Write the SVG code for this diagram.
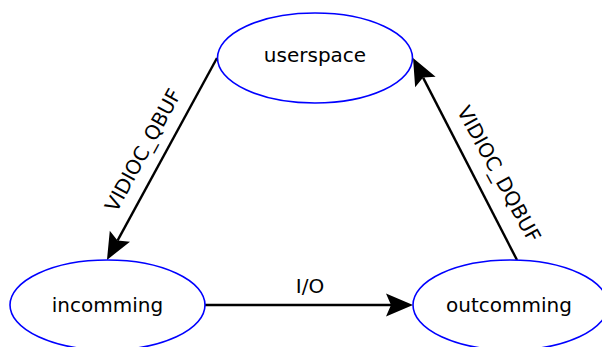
<svg xmlns="http://www.w3.org/2000/svg" width="602" height="347" viewBox="0 0 602 347">
  <style>
    .node ellipse { fill: #ffffff; stroke: #0000ff; stroke-width: 1.6; }
    .node text, .label { font-family: "DejaVu Sans", sans-serif; font-size: 20px; fill: #000000; text-anchor: middle; }
    .edge { fill: none; stroke: #000000; stroke-width: 2.4; }
  </style>
  <defs>
    <!-- stealth-style arrowhead; ref point sits at the notch -->
    <marker id="arrow" markerUnits="userSpaceOnUse" markerWidth="32" markerHeight="26" refX="5" refY="0" orient="auto" overflow="visible">
      <path d="M0,-11.5 L27,0 L0,11.5 L5,0 Z" fill="#000000"/>
    </marker>
  </defs>

  <g id="connectors">
    <path class="edge" d="M217,58 L117.5,240.6" marker-end="url(#arrow)"/>
    <path class="edge" d="M517,260 L423.1,77.6" marker-end="url(#arrow)"/>
    <path class="edge" d="M205,305 L391,305" marker-end="url(#arrow)"/>
    <text class="label" transform="translate(143,150) rotate(-61.4)" y="7">VIDIOC_QBUF</text>
    <text class="label" transform="translate(499,174) rotate(61.4)" y="7">VIDIOC_DQBUF</text>
    <text class="label" x="310" y="293">I/O</text>
  </g>

  <g id="userspace" class="node">
    <ellipse cx="315" cy="58" rx="97.5" ry="45"/>
    <text x="315" y="62">userspace</text>
  </g>
  <g id="incomming" class="node">
    <ellipse cx="107.5" cy="305" rx="97.5" ry="45"/>
    <text x="107.5" y="312">incomming</text>
  </g>
  <g id="outcomming" class="node">
    <ellipse cx="510.5" cy="305" rx="97.5" ry="45"/>
    <text x="509" y="312">outcomming</text>
  </g>
</svg>
